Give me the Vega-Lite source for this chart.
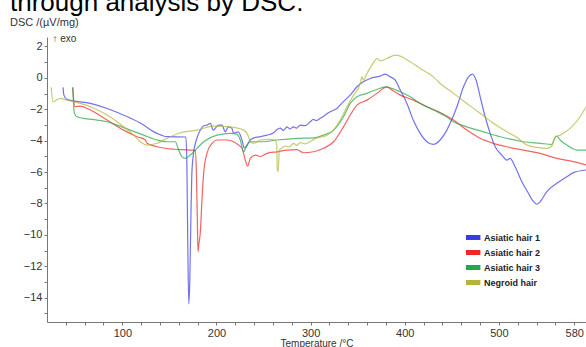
{
  "$schema": "https://vega.github.io/schema/vega-lite/v6.json",
  "width": 539,
  "height": 285,
  "autosize": "none",
  "padding": {"left": 47, "top": 37, "right": 0, "bottom": 25},
  "config": {
    "font": "Liberation Sans",
    "view": {"stroke": null},
    "axis": {"grid": false, "domainColor": "#777777", "tickColor": "#777777", "labelColor": "#333333", "titleColor": "#333333", "labelFont": "Liberation Sans", "titleFont": "Liberation Sans", "titleFontWeight": "normal"}
  },
  "title": {
    "text": "through analysis by DSC.",
    "subtitle": "DSC /(µV/mg)",
    "anchor": "start",
    "frame": "group",
    "dx": -37,
    "fontSize": 26,
    "fontWeight": "normal",
    "color": "#000000",
    "subtitleFontSize": 11,
    "subtitleColor": "#333333",
    "subtitlePadding": 1,
    "offset": 5
  },
  "data": {
    "values": [
      {"s": "Asiatic hair 1", "T": 37.1, "v": -0.61},
      {"s": "Asiatic hair 1", "T": 37.9, "v": -1.10},
      {"s": "Asiatic hair 1", "T": 41.3, "v": -1.37},
      {"s": "Asiatic hair 1", "T": 66.1, "v": -1.63},
      {"s": "Asiatic hair 1", "T": 83.8, "v": -1.95},
      {"s": "Asiatic hair 1", "T": 101.1, "v": -2.37},
      {"s": "Asiatic hair 1", "T": 119.1, "v": -2.88},
      {"s": "Asiatic hair 1", "T": 136.9, "v": -3.54},
      {"s": "Asiatic hair 1", "T": 147.5, "v": -3.75},
      {"s": "Asiatic hair 1", "T": 167.5, "v": -3.77},
      {"s": "Asiatic hair 1", "T": 168.5, "v": -5.23},
      {"s": "Asiatic hair 1", "T": 169.6, "v": -10.96},
      {"s": "Asiatic hair 1", "T": 170.6, "v": -14.40},
      {"s": "Asiatic hair 1", "T": 171.7, "v": -12.87},
      {"s": "Asiatic hair 1", "T": 172.8, "v": -9.05},
      {"s": "Asiatic hair 1", "T": 173.8, "v": -6.19},
      {"s": "Asiatic hair 1", "T": 175.4, "v": -4.92},
      {"s": "Asiatic hair 1", "T": 178.6, "v": -3.96},
      {"s": "Asiatic hair 1", "T": 182.8, "v": -3.33},
      {"s": "Asiatic hair 1", "T": 186.0, "v": -3.07},
      {"s": "Asiatic hair 1", "T": 189.9, "v": -3.01},
      {"s": "Asiatic hair 1", "T": 193.5, "v": -2.90},
      {"s": "Asiatic hair 1", "T": 196.6, "v": -3.33},
      {"s": "Asiatic hair 1", "T": 202.0, "v": -3.01},
      {"s": "Asiatic hair 1", "T": 205.9, "v": -3.01},
      {"s": "Asiatic hair 1", "T": 209.4, "v": -3.44},
      {"s": "Asiatic hair 1", "T": 212.6, "v": -3.12},
      {"s": "Asiatic hair 1", "T": 216.5, "v": -3.22},
      {"s": "Asiatic hair 1", "T": 217.9, "v": -3.52},
      {"s": "Asiatic hair 1", "T": 223.2, "v": -3.44},
      {"s": "Asiatic hair 1", "T": 227.1, "v": -3.96},
      {"s": "Asiatic hair 1", "T": 229.6, "v": -4.47},
      {"s": "Asiatic hair 1", "T": 232.4, "v": -4.28},
      {"s": "Asiatic hair 1", "T": 235.9, "v": -3.96},
      {"s": "Asiatic hair 1", "T": 239.1, "v": -3.84},
      {"s": "Asiatic hair 1", "T": 246.5, "v": -3.75},
      {"s": "Asiatic hair 1", "T": 253.7, "v": -3.65},
      {"s": "Asiatic hair 1", "T": 260.3, "v": -3.52},
      {"s": "Asiatic hair 1", "T": 264.0, "v": -3.30},
      {"s": "Asiatic hair 1", "T": 267.8, "v": -3.20},
      {"s": "Asiatic hair 1", "T": 271.0, "v": -3.35},
      {"s": "Asiatic hair 1", "T": 274.9, "v": -3.12},
      {"s": "Asiatic hair 1", "T": 278.0, "v": -3.25},
      {"s": "Asiatic hair 1", "T": 281.6, "v": -3.12},
      {"s": "Asiatic hair 1", "T": 285.0, "v": -3.20},
      {"s": "Asiatic hair 1", "T": 289.0, "v": -3.01},
      {"s": "Asiatic hair 1", "T": 294.0, "v": -3.05},
      {"s": "Asiatic hair 1", "T": 299.6, "v": -2.80},
      {"s": "Asiatic hair 1", "T": 302.8, "v": -2.65},
      {"s": "Asiatic hair 1", "T": 306.0, "v": -2.72},
      {"s": "Asiatic hair 1", "T": 310.2, "v": -2.58},
      {"s": "Asiatic hair 1", "T": 320.8, "v": -2.16},
      {"s": "Asiatic hair 1", "T": 327.9, "v": -1.95},
      {"s": "Asiatic hair 1", "T": 334.6, "v": -1.53},
      {"s": "Asiatic hair 1", "T": 342.0, "v": -1.10},
      {"s": "Asiatic hair 1", "T": 349.2, "v": -0.57},
      {"s": "Asiatic hair 1", "T": 355.9, "v": -0.25},
      {"s": "Asiatic hair 1", "T": 363.3, "v": -0.04},
      {"s": "Asiatic hair 1", "T": 373.9, "v": 0.11},
      {"s": "Asiatic hair 1", "T": 379.3, "v": 0.24},
      {"s": "Asiatic hair 1", "T": 384.6, "v": 0.06},
      {"s": "Asiatic hair 1", "T": 389.9, "v": -0.15},
      {"s": "Asiatic hair 1", "T": 395.2, "v": -0.78},
      {"s": "Asiatic hair 1", "T": 402.3, "v": -1.63},
      {"s": "Asiatic hair 1", "T": 409.0, "v": -2.69},
      {"s": "Asiatic hair 1", "T": 416.4, "v": -3.54},
      {"s": "Asiatic hair 1", "T": 423.5, "v": -4.07},
      {"s": "Asiatic hair 1", "T": 430.2, "v": -4.24},
      {"s": "Asiatic hair 1", "T": 437.6, "v": -3.96},
      {"s": "Asiatic hair 1", "T": 444.7, "v": -3.33},
      {"s": "Asiatic hair 1", "T": 448.2, "v": -2.90},
      {"s": "Asiatic hair 1", "T": 455.4, "v": -1.84},
      {"s": "Asiatic hair 1", "T": 462.4, "v": -0.57},
      {"s": "Asiatic hair 1", "T": 467.7, "v": 0.06},
      {"s": "Asiatic hair 1", "T": 471.9, "v": 0.24},
      {"s": "Asiatic hair 1", "T": 475.8, "v": -0.15},
      {"s": "Asiatic hair 1", "T": 480.1, "v": -1.21},
      {"s": "Asiatic hair 1", "T": 485.4, "v": -2.48},
      {"s": "Asiatic hair 1", "T": 490.7, "v": -3.54},
      {"s": "Asiatic hair 1", "T": 496.0, "v": -4.39},
      {"s": "Asiatic hair 1", "T": 503.1, "v": -4.92},
      {"s": "Asiatic hair 1", "T": 508.4, "v": -5.24},
      {"s": "Asiatic hair 1", "T": 511.9, "v": -5.13},
      {"s": "Asiatic hair 1", "T": 517.2, "v": -5.66},
      {"s": "Asiatic hair 1", "T": 524.4, "v": -6.62},
      {"s": "Asiatic hair 1", "T": 531.4, "v": -7.35},
      {"s": "Asiatic hair 1", "T": 536.7, "v": -7.89},
      {"s": "Asiatic hair 1", "T": 540.3, "v": -8.05},
      {"s": "Asiatic hair 1", "T": 543.8, "v": -7.89},
      {"s": "Asiatic hair 1", "T": 550.9, "v": -7.25},
      {"s": "Asiatic hair 1", "T": 561.5, "v": -6.72},
      {"s": "Asiatic hair 1", "T": 572.1, "v": -6.30},
      {"s": "Asiatic hair 1", "T": 579.1, "v": -6.04},
      {"s": "Asiatic hair 1", "T": 592.6, "v": -5.87},

      {"s": "Asiatic hair 2", "T": 47.3, "v": -0.61},
      {"s": "Asiatic hair 2", "T": 49.6, "v": -1.83},
      {"s": "Asiatic hair 2", "T": 55.5, "v": -1.80},
      {"s": "Asiatic hair 2", "T": 62.6, "v": -1.95},
      {"s": "Asiatic hair 2", "T": 69.6, "v": -2.16},
      {"s": "Asiatic hair 2", "T": 83.8, "v": -2.69},
      {"s": "Asiatic hair 2", "T": 101.4, "v": -3.33},
      {"s": "Asiatic hair 2", "T": 115.6, "v": -3.75},
      {"s": "Asiatic hair 2", "T": 124.5, "v": -3.96},
      {"s": "Asiatic hair 2", "T": 126.3, "v": -4.17},
      {"s": "Asiatic hair 2", "T": 136.9, "v": -4.39},
      {"s": "Asiatic hair 2", "T": 154.5, "v": -4.55},
      {"s": "Asiatic hair 2", "T": 172.2, "v": -4.60},
      {"s": "Asiatic hair 2", "T": 177.5, "v": -4.64},
      {"s": "Asiatic hair 2", "T": 178.6, "v": -5.87},
      {"s": "Asiatic hair 2", "T": 179.7, "v": -9.05},
      {"s": "Asiatic hair 2", "T": 180.4, "v": -11.07},
      {"s": "Asiatic hair 2", "T": 181.2, "v": -10.64},
      {"s": "Asiatic hair 2", "T": 182.8, "v": -9.88},
      {"s": "Asiatic hair 2", "T": 184.6, "v": -7.78},
      {"s": "Asiatic hair 2", "T": 186.4, "v": -6.06},
      {"s": "Asiatic hair 2", "T": 189.9, "v": -4.81},
      {"s": "Asiatic hair 2", "T": 195.3, "v": -4.17},
      {"s": "Asiatic hair 2", "T": 200.6, "v": -3.96},
      {"s": "Asiatic hair 2", "T": 211.2, "v": -3.96},
      {"s": "Asiatic hair 2", "T": 218.2, "v": -4.07},
      {"s": "Asiatic hair 2", "T": 223.5, "v": -4.28},
      {"s": "Asiatic hair 2", "T": 227.1, "v": -4.47},
      {"s": "Asiatic hair 2", "T": 230.6, "v": -5.24},
      {"s": "Asiatic hair 2", "T": 233.1, "v": -5.62},
      {"s": "Asiatic hair 2", "T": 235.9, "v": -5.13},
      {"s": "Asiatic hair 2", "T": 241.2, "v": -4.92},
      {"s": "Asiatic hair 2", "T": 246.5, "v": -5.01},
      {"s": "Asiatic hair 2", "T": 253.7, "v": -4.81},
      {"s": "Asiatic hair 2", "T": 264.3, "v": -4.71},
      {"s": "Asiatic hair 2", "T": 274.9, "v": -4.60},
      {"s": "Asiatic hair 2", "T": 285.5, "v": -4.57},
      {"s": "Asiatic hair 2", "T": 292.5, "v": -4.77},
      {"s": "Asiatic hair 2", "T": 303.1, "v": -4.71},
      {"s": "Asiatic hair 2", "T": 313.7, "v": -4.49},
      {"s": "Asiatic hair 2", "T": 324.4, "v": -4.07},
      {"s": "Asiatic hair 2", "T": 334.9, "v": -3.12},
      {"s": "Asiatic hair 2", "T": 342.1, "v": -2.37},
      {"s": "Asiatic hair 2", "T": 349.2, "v": -1.74},
      {"s": "Asiatic hair 2", "T": 359.8, "v": -1.42},
      {"s": "Asiatic hair 2", "T": 370.4, "v": -0.99},
      {"s": "Asiatic hair 2", "T": 377.4, "v": -0.67},
      {"s": "Asiatic hair 2", "T": 381.0, "v": -0.57},
      {"s": "Asiatic hair 2", "T": 386.4, "v": -0.78},
      {"s": "Asiatic hair 2", "T": 395.2, "v": -1.10},
      {"s": "Asiatic hair 2", "T": 409.3, "v": -1.42},
      {"s": "Asiatic hair 2", "T": 423.5, "v": -1.84},
      {"s": "Asiatic hair 2", "T": 437.6, "v": -2.21},
      {"s": "Asiatic hair 2", "T": 451.8, "v": -2.69},
      {"s": "Asiatic hair 2", "T": 465.9, "v": -3.33},
      {"s": "Asiatic hair 2", "T": 480.1, "v": -3.85},
      {"s": "Asiatic hair 2", "T": 494.2, "v": -4.17},
      {"s": "Asiatic hair 2", "T": 508.4, "v": -4.39},
      {"s": "Asiatic hair 2", "T": 526.0, "v": -4.60},
      {"s": "Asiatic hair 2", "T": 543.8, "v": -4.81},
      {"s": "Asiatic hair 2", "T": 561.5, "v": -5.13},
      {"s": "Asiatic hair 2", "T": 579.1, "v": -5.34},
      {"s": "Asiatic hair 2", "T": 592.6, "v": -5.55},

      {"s": "Asiatic hair 3", "T": 47.3, "v": -0.61},
      {"s": "Asiatic hair 3", "T": 49.1, "v": -2.25},
      {"s": "Asiatic hair 3", "T": 51.9, "v": -2.48},
      {"s": "Asiatic hair 3", "T": 59.0, "v": -2.58},
      {"s": "Asiatic hair 3", "T": 73.2, "v": -2.69},
      {"s": "Asiatic hair 3", "T": 83.8, "v": -2.80},
      {"s": "Asiatic hair 3", "T": 94.4, "v": -3.01},
      {"s": "Asiatic hair 3", "T": 108.5, "v": -3.33},
      {"s": "Asiatic hair 3", "T": 122.7, "v": -3.65},
      {"s": "Asiatic hair 3", "T": 136.9, "v": -3.96},
      {"s": "Asiatic hair 3", "T": 147.5, "v": -4.07},
      {"s": "Asiatic hair 3", "T": 156.3, "v": -4.07},
      {"s": "Asiatic hair 3", "T": 159.8, "v": -4.60},
      {"s": "Asiatic hair 3", "T": 163.4, "v": -5.03},
      {"s": "Asiatic hair 3", "T": 166.9, "v": -5.13},
      {"s": "Asiatic hair 3", "T": 172.2, "v": -4.92},
      {"s": "Asiatic hair 3", "T": 179.3, "v": -4.49},
      {"s": "Asiatic hair 3", "T": 186.4, "v": -4.07},
      {"s": "Asiatic hair 3", "T": 200.6, "v": -3.65},
      {"s": "Asiatic hair 3", "T": 214.7, "v": -3.54},
      {"s": "Asiatic hair 3", "T": 221.8, "v": -3.58},
      {"s": "Asiatic hair 3", "T": 225.3, "v": -3.96},
      {"s": "Asiatic hair 3", "T": 228.8, "v": -4.71},
      {"s": "Asiatic hair 3", "T": 231.7, "v": -4.39},
      {"s": "Asiatic hair 3", "T": 235.9, "v": -4.07},
      {"s": "Asiatic hair 3", "T": 250.0, "v": -4.07},
      {"s": "Asiatic hair 3", "T": 264.3, "v": -3.96},
      {"s": "Asiatic hair 3", "T": 285.5, "v": -3.85},
      {"s": "Asiatic hair 3", "T": 303.1, "v": -3.82},
      {"s": "Asiatic hair 3", "T": 313.7, "v": -3.65},
      {"s": "Asiatic hair 3", "T": 324.4, "v": -3.33},
      {"s": "Asiatic hair 3", "T": 334.9, "v": -2.48},
      {"s": "Asiatic hair 3", "T": 342.1, "v": -1.63},
      {"s": "Asiatic hair 3", "T": 349.2, "v": -1.21},
      {"s": "Asiatic hair 3", "T": 359.8, "v": -0.99},
      {"s": "Asiatic hair 3", "T": 370.4, "v": -0.74},
      {"s": "Asiatic hair 3", "T": 379.3, "v": -0.57},
      {"s": "Asiatic hair 3", "T": 386.4, "v": -0.67},
      {"s": "Asiatic hair 3", "T": 395.2, "v": -0.89},
      {"s": "Asiatic hair 3", "T": 405.8, "v": -1.21},
      {"s": "Asiatic hair 3", "T": 416.4, "v": -1.63},
      {"s": "Asiatic hair 3", "T": 430.5, "v": -2.05},
      {"s": "Asiatic hair 3", "T": 444.0, "v": -2.47},
      {"s": "Asiatic hair 3", "T": 451.8, "v": -2.80},
      {"s": "Asiatic hair 3", "T": 465.9, "v": -3.12},
      {"s": "Asiatic hair 3", "T": 483.6, "v": -3.44},
      {"s": "Asiatic hair 3", "T": 501.3, "v": -3.75},
      {"s": "Asiatic hair 3", "T": 526.0, "v": -4.07},
      {"s": "Asiatic hair 3", "T": 543.8, "v": -4.17},
      {"s": "Asiatic hair 3", "T": 556.2, "v": -4.24},
      {"s": "Asiatic hair 3", "T": 559.7, "v": -3.79},
      {"s": "Asiatic hair 3", "T": 561.5, "v": -3.71},
      {"s": "Asiatic hair 3", "T": 565.0, "v": -3.96},
      {"s": "Asiatic hair 3", "T": 572.1, "v": -4.28},
      {"s": "Asiatic hair 3", "T": 582.7, "v": -4.60},
      {"s": "Asiatic hair 3", "T": 592.6, "v": -4.60},

      {"s": "Negroid hair", "T": 24.4, "v": -0.61},
      {"s": "Negroid hair", "T": 26.5, "v": -1.53},
      {"s": "Negroid hair", "T": 28.9, "v": -1.46},
      {"s": "Negroid hair", "T": 34.2, "v": -1.31},
      {"s": "Negroid hair", "T": 41.3, "v": -1.42},
      {"s": "Negroid hair", "T": 55.5, "v": -1.63},
      {"s": "Negroid hair", "T": 66.1, "v": -1.84},
      {"s": "Negroid hair", "T": 83.8, "v": -2.37},
      {"s": "Negroid hair", "T": 101.4, "v": -3.12},
      {"s": "Negroid hair", "T": 112.0, "v": -3.65},
      {"s": "Negroid hair", "T": 119.1, "v": -4.07},
      {"s": "Negroid hair", "T": 126.3, "v": -4.28},
      {"s": "Negroid hair", "T": 136.9, "v": -4.17},
      {"s": "Negroid hair", "T": 147.5, "v": -3.85},
      {"s": "Negroid hair", "T": 161.6, "v": -3.50},
      {"s": "Negroid hair", "T": 179.3, "v": -3.33},
      {"s": "Negroid hair", "T": 197.0, "v": -3.07},
      {"s": "Negroid hair", "T": 214.7, "v": -3.12},
      {"s": "Negroid hair", "T": 228.8, "v": -3.33},
      {"s": "Negroid hair", "T": 234.1, "v": -3.75},
      {"s": "Negroid hair", "T": 235.9, "v": -4.07},
      {"s": "Negroid hair", "T": 239.5, "v": -4.17},
      {"s": "Negroid hair", "T": 246.5, "v": -3.96},
      {"s": "Negroid hair", "T": 257.1, "v": -3.92},
      {"s": "Negroid hair", "T": 262.4, "v": -3.96},
      {"s": "Negroid hair", "T": 264.0, "v": -4.28},
      {"s": "Negroid hair", "T": 264.6, "v": -5.94},
      {"s": "Negroid hair", "T": 265.6, "v": -5.94},
      {"s": "Negroid hair", "T": 266.7, "v": -4.60},
      {"s": "Negroid hair", "T": 270.0, "v": -4.45},
      {"s": "Negroid hair", "T": 273.0, "v": -4.34},
      {"s": "Negroid hair", "T": 277.0, "v": -4.40},
      {"s": "Negroid hair", "T": 281.9, "v": -4.17},
      {"s": "Negroid hair", "T": 285.0, "v": -4.30},
      {"s": "Negroid hair", "T": 289.0, "v": -4.13},
      {"s": "Negroid hair", "T": 294.0, "v": -4.20},
      {"s": "Negroid hair", "T": 299.6, "v": -4.07},
      {"s": "Negroid hair", "T": 303.1, "v": -3.92},
      {"s": "Negroid hair", "T": 317.3, "v": -3.65},
      {"s": "Negroid hair", "T": 324.4, "v": -3.33},
      {"s": "Negroid hair", "T": 331.5, "v": -2.69},
      {"s": "Negroid hair", "T": 338.6, "v": -1.84},
      {"s": "Negroid hair", "T": 345.6, "v": -1.10},
      {"s": "Negroid hair", "T": 352.7, "v": -0.36},
      {"s": "Negroid hair", "T": 354.5, "v": 0.06},
      {"s": "Negroid hair", "T": 356.2, "v": -0.15},
      {"s": "Negroid hair", "T": 359.8, "v": 0.28},
      {"s": "Negroid hair", "T": 365.1, "v": 0.81},
      {"s": "Negroid hair", "T": 368.6, "v": 1.13},
      {"s": "Negroid hair", "T": 370.4, "v": 1.23},
      {"s": "Negroid hair", "T": 374.0, "v": 1.08},
      {"s": "Negroid hair", "T": 381.0, "v": 1.23},
      {"s": "Negroid hair", "T": 389.9, "v": 1.44},
      {"s": "Negroid hair", "T": 395.2, "v": 1.38},
      {"s": "Negroid hair", "T": 405.8, "v": 1.02},
      {"s": "Negroid hair", "T": 416.4, "v": 0.60},
      {"s": "Negroid hair", "T": 430.5, "v": 0.06},
      {"s": "Negroid hair", "T": 437.6, "v": -0.36},
      {"s": "Negroid hair", "T": 451.8, "v": -0.99},
      {"s": "Negroid hair", "T": 465.9, "v": -1.63},
      {"s": "Negroid hair", "T": 480.1, "v": -2.26},
      {"s": "Negroid hair", "T": 494.2, "v": -2.90},
      {"s": "Negroid hair", "T": 508.4, "v": -3.44},
      {"s": "Negroid hair", "T": 519.0, "v": -3.79},
      {"s": "Negroid hair", "T": 529.6, "v": -4.28},
      {"s": "Negroid hair", "T": 540.3, "v": -4.43},
      {"s": "Negroid hair", "T": 550.9, "v": -4.49},
      {"s": "Negroid hair", "T": 556.2, "v": -4.34},
      {"s": "Negroid hair", "T": 559.7, "v": -3.79},
      {"s": "Negroid hair", "T": 565.0, "v": -3.65},
      {"s": "Negroid hair", "T": 575.6, "v": -3.22},
      {"s": "Negroid hair", "T": 586.2, "v": -2.48},
      {"s": "Negroid hair", "T": 592.6, "v": -1.84}
    ]
  },
  "mark": {"type": "line", "strokeWidth": 1.2, "strokeOpacity": 0.72, "clip": true, "interpolate": "monotone"},
  "encoding": {
    "x": {
      "field": "T", "type": "quantitative",
      "scale": {"domain": [20, 592.5], "nice": false, "zero": false},
      "axis": {
        "title": "Temperature /°C",
        "values": [40, 60, 80, 100, 120, 140, 160, 180, 200, 220, 240, 260, 280, 300, 320, 340, 360, 380, 400, 420, 440, 460, 480, 500, 520, 540, 560, 580],
        "labelExpr": "(datum.value % 100 == 0 || datum.value == 580) ? datum.label : ''",
        "labelFontSize": 11,
        "labelPadding": 2,
        "tickSize": 3,
        "titleFontSize": 10,
        "titlePadding": 0,
        "labelOverlap": false,
        "labelFlush": false
      }
    },
    "y": {
      "field": "v", "type": "quantitative",
      "scale": {"domain": [-15.55, 2.6], "nice": false, "zero": false},
      "axis": {
        "title": "↑ exo",
        "titleAngle": 0,
        "titleAlign": "left",
        "titleBaseline": "middle",
        "titleX": 5,
        "titleY": 1,
        "titleFontSize": 10,
        "values": [-15, -14, -13, -12, -11, -10, -9, -8, -7, -6, -5, -4, -3, -2, -1, 0, 1, 2],
        "labelExpr": "(datum.value % 2 == 0) ? datum.label : ''",
        "labelFontSize": 11,
        "labelPadding": 2,
        "tickSize": 3,
        "labelOverlap": false,
        "labelFlush": false
      }
    },
    "color": {
      "field": "s", "type": "nominal",
      "scale": {"domain": ["Asiatic hair 1", "Asiatic hair 2", "Asiatic hair 3", "Negroid hair"], "range": ["#3b3be6", "#f02626", "#22a844", "#b4b43a"]},
      "legend": {
        "title": null,
        "orient": "none",
        "legendX": 419,
        "legendY": 194,
        "symbolType": "M-2.4,0H2.4",
        "symbolStrokeWidth": 5,
        "symbolSize": 49,
        "symbolOpacity": 1,
        "labelFontSize": 9,
        "labelFontWeight": "bold",
        "labelColor": "#222222",
        "labelOffset": 6,
        "clipHeight": 13,
        "rowPadding": 2
      }
    }
  }
}
